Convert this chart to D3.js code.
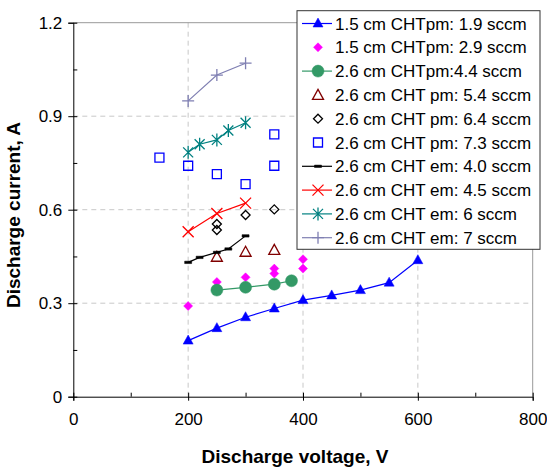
<!DOCTYPE html>
<html>
<head>
<meta charset="utf-8"/>
<title>Discharge current vs voltage</title>
<script src="https://cdn.jsdelivr.net/npm/d3@7"></script>
<style>
  body { margin: 0; background: #fff; }
  svg text { font-family: "Liberation Sans", Arial, sans-serif; fill: #000; }
</style>
</head>
<body>
<div id="chart"></div>
<script>
// series values, [voltage V, current A]
var cht15pm19 = [[200, 0.18], [250, 0.22], [300, 0.255], [350, 0.283], [400, 0.31], [450, 0.325], [500, 0.342], [550, 0.366], [600, 0.438]];
var cht15pm29 = [[200, 0.291], [250, 0.368], [300, 0.383], [350, 0.411], [350, 0.395], [400, 0.441], [400, 0.411]];
var cht26pm44 = [[250, 0.342], [300, 0.351], [350, 0.361], [380, 0.372]];
var cht26pm54 = [[250, 0.449], [300, 0.465], [350, 0.471]];
var cht26pm64 = [[250, 0.554], [250, 0.535], [300, 0.583], [350, 0.601]];
var cht26pm73 = [[150, 0.767], [200, 0.741], [250, 0.714], [300, 0.682], [350, 0.842], [350, 0.741]];
var cht26em40 = [[200, 0.431], [220, 0.447], [250, 0.463], [270, 0.474], [300, 0.516]];
var cht26em45 = [[200, 0.529], [250, 0.588], [300, 0.621]];
var cht26em6 = [[200, 0.784], [220, 0.81], [250, 0.824], [270, 0.854], [300, 0.879]];
var cht26em7 = [[200, 0.949], [250, 1.032], [300, 1.07]];

var legendLabels = [
  "1.5 cm CHTpm: 1.9 sccm", "1.5 cm CHTpm: 2.9 sccm", "2.6 cm CHTpm:4.4 sccm",
  "2.6 cm CHT pm: 5.4 sccm", "2.6 cm CHT pm: 6.4 sccm", "2.6 cm CHT pm: 7.3 sccm",
  "2.6 cm CHT em: 4.0 sccm", "2.6 cm CHT em: 4.5 sccm", "2.6 cm CHT em: 6 sccm",
  "2.6 cm CHT em: 7 sccm"
];
var xTicks = [0, 200, 400, 600, 800];
var xMinor = [100, 300, 500, 700];
var yTicks = [0, 0.3, 0.6, 0.9, 1.2];
var yMinor = [0.15, 0.45, 0.75, 1.05];

var series = [
  {data: cht15pm19, shape: "triUp", color: "#0000ff", fill: true, line: true},
  {data: cht15pm29, shape: "diamond", color: "#ff00ff", fill: true, line: false},
  {data: cht26pm44, shape: "circle", color: "#339966", fill: true, line: true},
  {data: cht26pm54, shape: "triOpen", color: "#800000", fill: false, line: false},
  {data: cht26pm64, shape: "diamondOpen", color: "#000000", fill: false, line: false},
  {data: cht26pm73, shape: "square", color: "#0000ff", fill: false, line: false},
  {data: cht26em40, shape: "dash", color: "#000000", fill: true, line: true},
  {data: cht26em45, shape: "x", color: "#ff0000", fill: false, line: true},
  {data: cht26em6, shape: "star", color: "#008080", fill: false, line: true},
  {data: cht26em7, shape: "plus", color: "#7f7fb2", fill: false, line: true}
];

// marker outlines around 0,0
function shapePath(s) {
  switch (s) {
    case "triUp": return "M0,-5.5L5,3.5L-5,3.5Z";
    case "diamond": return "M0,-4.5L4.5,0L0,4.5L-4.5,0Z";
    case "circle": return "M-6,0A6,6 0 1,0 6,0A6,6 0 1,0 -6,0Z";
    case "triOpen": return "M0,-5.5L5.5,4.5L-5.5,4.5Z";
    case "diamondOpen": return "M0,-4.5L4.5,0L0,4.5L-4.5,0Z";
    case "square": return "M-4.5,-4.5H4.5V4.5H-4.5Z";
    case "dash": return "M-3.5,-1.2H3.5V1.2H-3.5Z";
    case "x": return "M-5.5,-5.5L5.5,5.5M-5.5,5.5L5.5,-5.5";
    case "star": return "M-5,-5L5,5M-5,5L5,-5M0,-6.5V6.5";
    case "plus": return "M-6,0H6M0,-6V6";
  }
}

var W = 547, H = 470;
var x = d3.scaleLinear().domain([0, 800]).range([73.3, 532.7]);
var y = d3.scaleLinear().domain([0, 1.2]).range([396.7, 22.7]);

var svg = d3.select("#chart").append("svg").attr("width", W).attr("height", H);

// gridlines
var grid = svg.append("g").attr("stroke", "#c8c8c8").attr("stroke-dasharray", "5,4").attr("stroke-width", 1);
grid.selectAll(".gy").data([0.3, 0.6, 0.9]).join("line")
  .attr("x1", x(0)).attr("x2", x(800)).attr("y1", d => y(d)).attr("y2", d => y(d));
grid.selectAll(".gx").data([200, 400, 600]).join("line")
  .attr("y1", y(0)).attr("y2", y(1.2)).attr("x1", d => x(d)).attr("x2", d => x(d));

// plot frame (top and right)
svg.append("path")
  .attr("d", "M" + x(0) + "," + y(1.2) + "H" + x(800) + "V" + y(0))
  .attr("fill", "none").attr("stroke", "#999").attr("stroke-width", 1);

// axes
var xAxis = svg.append("g").attr("transform", "translate(0," + y(0) + ")")
  .call(d3.axisBottom(x).tickValues(xTicks).tickSize(4).tickPadding(12));
xAxis.selectAll(".tick line").attr("y1", -4);
svg.append("g").attr("transform", "translate(0," + y(0) + ")")
  .call(d3.axisBottom(x).tickValues(xMinor).tickSize(-4).tickFormat(""))
  .select(".domain").remove();

var yAxis = svg.append("g").attr("transform", "translate(" + x(0) + ",0)")
  .call(d3.axisLeft(y).tickValues(yTicks).tickSize(5).tickPadding(6).tickFormat(d3.format("~g")));
yAxis.selectAll(".tick line").attr("x1", 4);
svg.append("g").attr("transform", "translate(" + x(0) + ",0)")
  .call(d3.axisLeft(y).tickValues(yMinor).tickSize(-4).tickFormat(""))
  .select(".domain").remove();

svg.selectAll(".domain").attr("stroke", "#000");
svg.selectAll(".tick line").attr("stroke", "#000");
svg.selectAll(".tick text").attr("font-size", 17).attr("font-family", "Liberation Sans, Arial, sans-serif");

// axis titles
svg.append("text").attr("x", 295).attr("y", 463).attr("text-anchor", "middle")
  .attr("font-size", 19).attr("font-weight", "bold").text("Discharge voltage, V");
svg.append("text").attr("transform", "translate(20,215) rotate(-90)").attr("text-anchor", "middle")
  .attr("font-size", 19).attr("font-weight", "bold").text("Discharge current, A");

// series
var line = d3.line().x(d => x(d[0])).y(d => y(d[1]));
series.forEach(function (s) {
  var g = svg.append("g");
  if (s.line) {
    g.append("path").attr("d", line(s.data)).attr("fill", "none")
      .attr("stroke", s.color).attr("stroke-width", 1.2);
  }
  g.selectAll("path.m").data(s.data).join("path").attr("class", "m")
    .attr("transform", d => "translate(" + x(d[0]) + "," + y(d[1]) + ")")
    .attr("d", shapePath(s.shape))
    .attr("fill", s.fill ? s.color : "none")
    .attr("stroke", s.color)
    .attr("stroke-width", s.fill ? 0.5 : 1.3);
});

// legend
var lg = svg.append("g");
lg.append("rect").attr("x", 297).attr("y", 10.7).attr("width", 243).attr("height", 238.6)
  .attr("fill", "#fff").attr("stroke", "#333").attr("stroke-width", 1);
var rows = lg.selectAll("g.row").data(series).join("g").attr("class", "row")
  .attr("transform", (d, i) => "translate(318," + (23.5 + i * 23.8) + ")");
rows.filter(d => d.line).append("line").attr("x1", -16).attr("x2", 14)
  .attr("stroke", d => d.color).attr("stroke-width", 1.2);
rows.append("path").attr("d", d => shapePath(d.shape))
  .attr("fill", d => d.fill ? d.color : "none")
  .attr("stroke", d => d.color)
  .attr("stroke-width", d => d.fill ? 0.5 : 1.3);
rows.append("text").attr("x", 17).attr("dy", "0.36em").attr("font-size", 17)
  .text((d, i) => legendLabels[i]);
</script>
</body>
</html>
